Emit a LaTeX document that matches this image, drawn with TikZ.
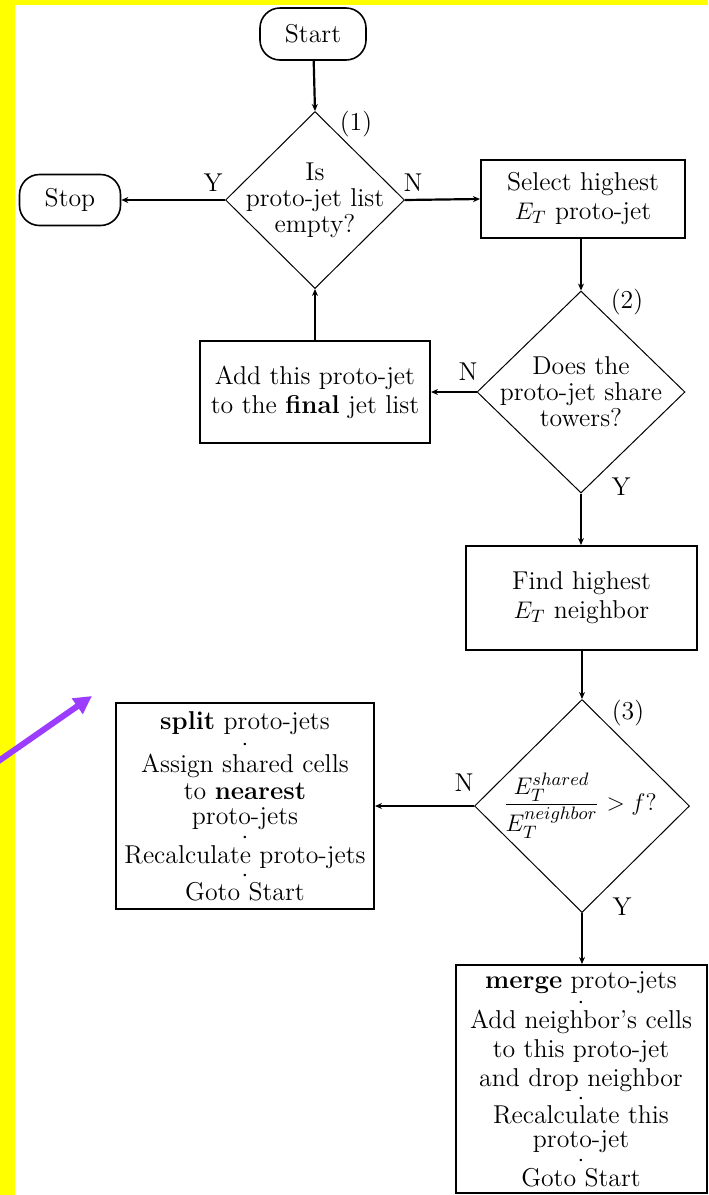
\documentclass[tikz,border=0pt]{standalone}
\usetikzlibrary{shapes.geometric,arrows.meta}
\definecolor{bgyellow}{RGB}{255,255,0}
\definecolor{arrowpurple}{RGB}{155,60,255}
\begin{document}
\begin{tikzpicture}[x=0.5pt,y=-0.5pt,
  every node/.style={font=\fontsize{12.9}{14.5}\selectfont},
  term/.style={draw,line width=0.8pt,rounded corners=10pt,inner sep=0pt},
  procbox/.style={draw,line width=1pt,inner sep=0pt,align=center},
  decision/.style={draw,diamond,line width=0.5pt,inner sep=0pt},
  dtext/.style={align=center,inner sep=0pt,font=\fontsize{12.9}{13}\selectfont},
  flow/.style={line width=1.1pt,-{Stealth[length=3.5pt,width=3pt]}},
  lbl/.style={inner sep=0pt},
  pointer/.style={line width=3pt,arrowpurple,-{Triangle[length=9pt,width=9pt]}}
]
\useasboundingbox (0,0) rectangle (708,1195);
\fill[bgyellow] (0,0) rectangle (708,1195);
\fill[white] (15,5) rectangle (708,1195);

% terminals
\node[term,minimum width=53pt,minimum height=26pt] (start) at (313,34) {Start};
\node[term,minimum width=50.5pt,minimum height=25.5pt] (stop) at (70,200) {Stop};

% decisions
\node[decision,minimum width=89.5pt,minimum height=88.5pt] (d1) at (315,200) {};
\node[dtext] (d1t) at (315,200) {Is\\proto-jet list\\empty?};
\node[decision,minimum width=104pt,minimum height=101pt] (d2) at (581,392) {};
\node[dtext] (d2t) at (581,392) {Does the\\proto-jet share\\towers?};
\node[decision,minimum width=107.5pt,minimum height=106.5pt] (d3) at (582,806) {};
\node[dtext] (d3t) at (580,806) {$\displaystyle\frac{E_T^{shared}}{E_T^{neighbor}} > f?$};

% process boxes
\node[procbox,minimum width=102pt,minimum height=39pt] (select) at (583,199) {Select highest\\$E_T$ proto-jet};
\node[procbox,minimum width=115pt,minimum height=51pt] (add) at (315,392) {Add this proto-jet\\to the \textbf{final} jet list};
\node[procbox,minimum width=115.5pt,minimum height=52pt] (find) at (581.5,598) {Find highest\\$E_T$ neighbor};
\node[procbox,minimum width=129pt,minimum height=103pt] (split) at (245,806)
  {\textbf{split} proto-jets\\[-3.75pt]$\cdot$\\[-3.75pt]Assign shared cells\\[-1pt]to \textbf{nearest}\\[-2pt]proto-jets\\[-4.75pt]$\cdot$\\[-4.75pt]Recalculate proto-jets\\[-5.25pt]$\cdot$\\[-5.25pt]Goto Start};
\node[procbox,minimum width=125.5pt,minimum height=114pt] (merge) at (581,1079)
  {\textbf{merge} proto-jets\\[-4.5pt]$\cdot$\\[-4.5pt]Add neighbor's cells\\to this proto-jet\\and drop neighbor\\[-5.25pt]$\cdot$\\[-5.25pt]Recalculate this\\[-2.5pt]proto-jet\\[-4.75pt]$\cdot$\\[-4.75pt]Goto Start};

% labels
\node[lbl] (n1) at (356,124) {(1)};
\node[lbl] (n2) at (627,302) {(2)};
\node[lbl] (n3) at (628,713) {(3)};
\node[lbl] (y1) at (213,183) {Y};
\node[lbl] (no1) at (413,183) {N};
\node[lbl] (no2) at (468,372) {N};
\node[lbl] (y2) at (621,487) {Y};
\node[lbl] (no3) at (464,783) {N};
\node[lbl] (y3) at (622,907) {Y};

% connectors
\draw[flow] (start) -- (d1.north);
\draw[flow] (d1.west) -- (stop.east);
\draw[flow] (d1.east) -- (select.west);
\draw[flow] (select.south -| d2.north) -- (d2.north);
\draw[flow] (d2.west) -- (add.east);
\draw[flow] (add.north) -- (d1.south);
\draw[flow] (d2.south) -- (find.north -| d2.south);
\draw[flow] (find.south -| d3.north) -- (d3.north);
\draw[flow] (d3.west) -- (split.east);
\draw[flow] (d3.south) -- (merge.north -| d3.south);

% pointer arrow
\coordinate (pa) at (-10,767);
\coordinate (pb) at (92,696);
\draw[pointer] (pa) -- (pb);
\end{tikzpicture}
\end{document}
